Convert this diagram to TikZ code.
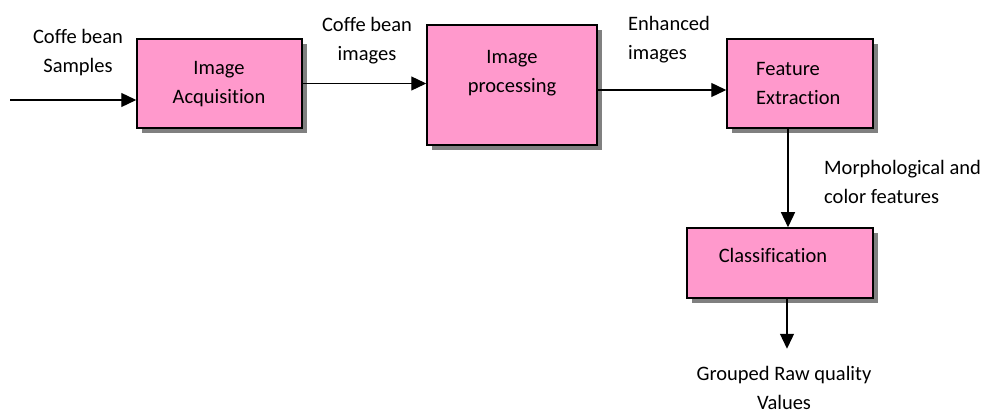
\documentclass[tikz,border=0pt]{standalone}
\usepackage{fontspec}
\setmainfont[Ligatures={NoCommon}]{Carlito}
\usetikzlibrary{arrows.meta,shadows}
\definecolor{boxpink}{RGB}{255,153,204}
\definecolor{shadowgray}{RGB}{128,128,128}
\tikzset{
  box/.style={draw=black, line width=1.5pt, fill=boxpink, rectangle, inner sep=0pt,
    drop shadow={shadow xshift=5pt, shadow yshift=-5pt, fill=shadowgray, opacity=1}},
  txt/.style={font=\fontsize{20.5}{29}\selectfont, inner sep=0pt, align=center},
  ltxt/.style={font=\fontsize{20.5}{29}\selectfont, inner sep=0pt, align=left, anchor=west},
  conn/.style={line width=1.3pt, -{Triangle[length=15pt,width=14pt]}}
}
\begin{document}
\begin{tikzpicture}[x=1pt,y=-1pt]
\useasboundingbox (0,0) rectangle (985,414);
\node[box, minimum width=165pt, minimum height=89pt] (b1) at (219.5,83.5) {};
\node[box, minimum width=170pt, minimum height=120pt] (b2) at (512,85) {};
\node[box, minimum width=146pt, minimum height=89pt] (b3) at (800,83.5) {};
\node[box, minimum width=186pt, minimum height=70pt] (b4) at (780,263) {};

\node[txt] (t1) at (219,84) {Image\\Acquisition};
\node[txt] (t2) at (512,73) {Image\\processing};
\node[ltxt] (t3) at (756,83.5) {Feature\\Extraction};
\node[txt] (t4) at (773,255) {Classification};

\node[txt] (lin) at (78,53) {Coffe bean\\Samples};
\node[txt] (l12) at (367,41) {Coffe bean\\images};
\node[ltxt] (l23) at (628,39.5) {Enhanced\\images};
\node[ltxt] (l34) at (824,182) {Morphological and\\color features};
\node[txt] (lout) at (784,388) {Grouped Raw quality\\Values};

\coordinate (start) at (10,100);
\coordinate (m23) at ([yshift=-5pt]b2.east);
\coordinate (m34) at ([xshift=-12pt]b3.south);
\coordinate (m4) at ([xshift=7pt]b4.south);
\coordinate (endp) at ([yshift=-50pt]m4);

\draw[conn] (start) -- (start -| b1.west);
\draw[conn] (b1.east) -- (b1.east -| b2.west);
\draw[conn] (m23) -- (m23 -| b3.west);
\draw[conn] (m34) -- (m34 |- b4.north);
\draw[conn] (m4) -- (endp);
\end{tikzpicture}
\end{document}
